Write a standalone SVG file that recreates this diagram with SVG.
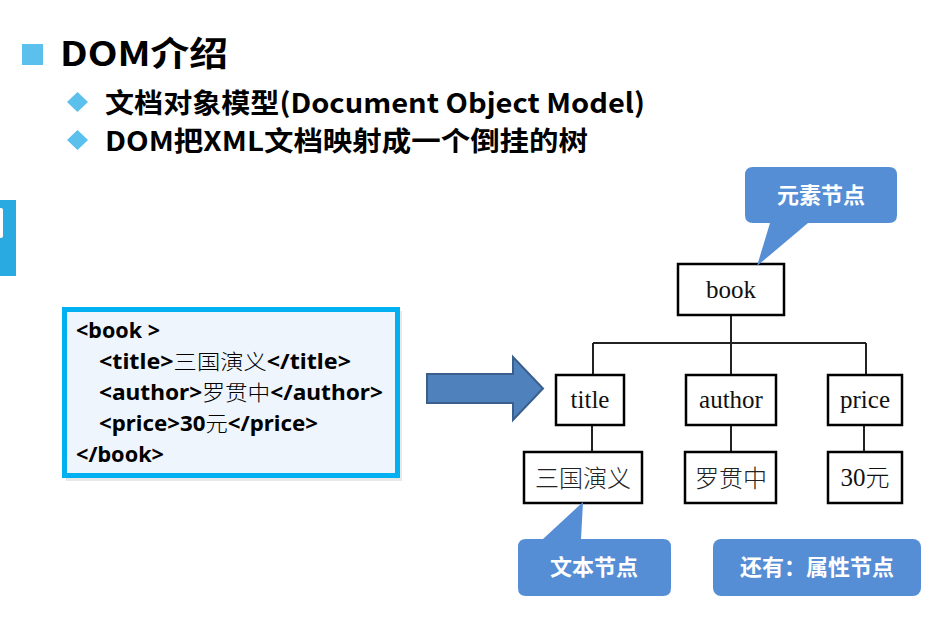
<svg xmlns="http://www.w3.org/2000/svg" width="934" height="618" viewBox="0 0 934 618">
<style>
.h{font-family:"Noto Sans CJK SC","Noto Sans",sans-serif;font-weight:bold;fill:#000}
.code{font-family:"Noto Sans","Noto Sans CJK SC",sans-serif;font-weight:bold;font-size:21px;fill:#000}
.cj{font-family:"Noto Sans CJK SC",serif;font-weight:300}
.box{fill:#fff;stroke:#000;stroke-width:2.5}
.nt{font-family:"Liberation Serif","Noto Sans CJK SC",serif;font-size:25px;fill:#111;text-anchor:middle}
.ct{font-family:"Noto Sans CJK SC",sans-serif;font-weight:300;font-size:24px;fill:#222;text-anchor:middle}
.call{fill:#558ED5}
.clt{font-family:"Noto Sans CJK SC",sans-serif;font-weight:bold;font-size:22px;fill:#fff;text-anchor:middle}
.ln{stroke:#222;stroke-width:2;fill:none}
</style>
<rect width="934" height="618" fill="#fff"/>
<g id="side">
<rect x="0" y="200" width="16" height="76" fill="#29ABE2"/>
<rect x="-3" y="208" width="6" height="30" rx="2" fill="#fff"/>
</g>
<g id="heading">
<rect x="22" y="44" width="21" height="21" fill="#5BC0EB"/>
<text class="h" x="60" y="66" font-size="34" textLength="168" lengthAdjust="spacingAndGlyphs">DOM介绍</text>
<path d="M77.5 92 L88 102 L77.5 112 L67 102 Z" fill="#5BC0EB"/>
<path d="M77.5 130 L88 140 L77.5 150 L67 140 Z" fill="#5BC0EB"/>
<text class="h" x="105" y="113" font-size="27" textLength="540" lengthAdjust="spacingAndGlyphs">文档对象模型(Document Object Model)</text>
<text class="h" x="105" y="151" font-size="27" textLength="483" lengthAdjust="spacingAndGlyphs">DOM把XML文档映射成一个倒挂的树</text>
</g>
<g id="code">
<rect x="66" y="311" width="336" height="170" fill="#d8d8d8" opacity="0.6"/>
<rect x="64.5" y="309.5" width="333" height="166" fill="#EEF5FC" stroke="#00B0F0" stroke-width="5"/>
<text class="code" x="76" y="338" textLength="84" lengthAdjust="spacingAndGlyphs">&lt;book &gt;</text>
<text class="code" x="99" y="369" textLength="252" lengthAdjust="spacingAndGlyphs">&lt;title&gt;<tspan class="cj">三国演义</tspan>&lt;/title&gt;</text>
<text class="code" x="99" y="400" textLength="284" lengthAdjust="spacingAndGlyphs">&lt;author&gt;<tspan class="cj">罗贯中</tspan>&lt;/author&gt;</text>
<text class="code" x="99" y="431" textLength="219" lengthAdjust="spacingAndGlyphs">&lt;price&gt;30<tspan class="cj">元</tspan>&lt;/price&gt;</text>
<text class="code" x="76" y="462" textLength="88" lengthAdjust="spacingAndGlyphs">&lt;/book&gt;</text>
</g>
<g id="arrow">
<path d="M427 374 L513 374 L513 357 L543 388.5 L513 420 L513 403 L427 403 Z" fill="#4F81BD" stroke="#3A5F8B" stroke-width="2"/>
</g>
<g id="connectors">
<path class="ln" d="M731 316 V343 M593 343 H866 M593 343 V374 M731 343 V374 M866 343 V374"/>
<path class="ln" d="M592 426 V451 M731 426 V451 M864 426 V451"/>
</g>
<g id="node-book"><rect class="box" x="678" y="264" width="106" height="51"/><text class="nt" x="731" y="298">book</text></g>
<g id="node-title"><rect class="box" x="556" y="375" width="68" height="50"/><text class="nt" x="590" y="408">title</text></g>
<g id="node-author"><rect class="box" x="686" y="375" width="90" height="50"/><text class="nt" x="731" y="408">author</text></g>
<g id="node-price"><rect class="box" x="828" y="375" width="74" height="50"/><text class="nt" x="865" y="408">price</text></g>
<g id="text-title"><rect class="box" x="524" y="452" width="118" height="51"/><text class="ct" x="583" y="487">三国演义</text></g>
<g id="text-author"><rect class="box" x="685" y="452" width="91" height="51"/><text class="ct" x="731" y="487">罗贯中</text></g>
<g id="text-price"><rect class="box" x="828" y="452" width="74" height="51"/><text class="nt" x="865" y="486">30<tspan style="font-family:'Noto Sans CJK SC';font-weight:300;font-size:24px">元</tspan></text></g>
<g id="callout-element">
<path class="call" d="M753 167 H889 Q897 167 897 175 V215 Q897 223 889 223 H808 L757 266 L770 223 H753 Q745 223 745 215 V175 Q745 167 753 167 Z"/>
<text class="clt" x="821" y="203">元素节点</text>
</g>
<g id="callout-text">
<path class="call" d="M526 539 H543 L583 502 L581 539 H663 Q671 539 671 547 V588 Q671 596 663 596 H526 Q518 596 518 588 V547 Q518 539 526 539 Z"/>
<text class="clt" x="594" y="575">文本节点</text>
</g>
<g id="callout-attr">
<rect class="call" x="713" y="539" width="208" height="57" rx="8"/>
<text class="clt" x="817" y="575">还有：属性节点</text>
</g>
</svg>
